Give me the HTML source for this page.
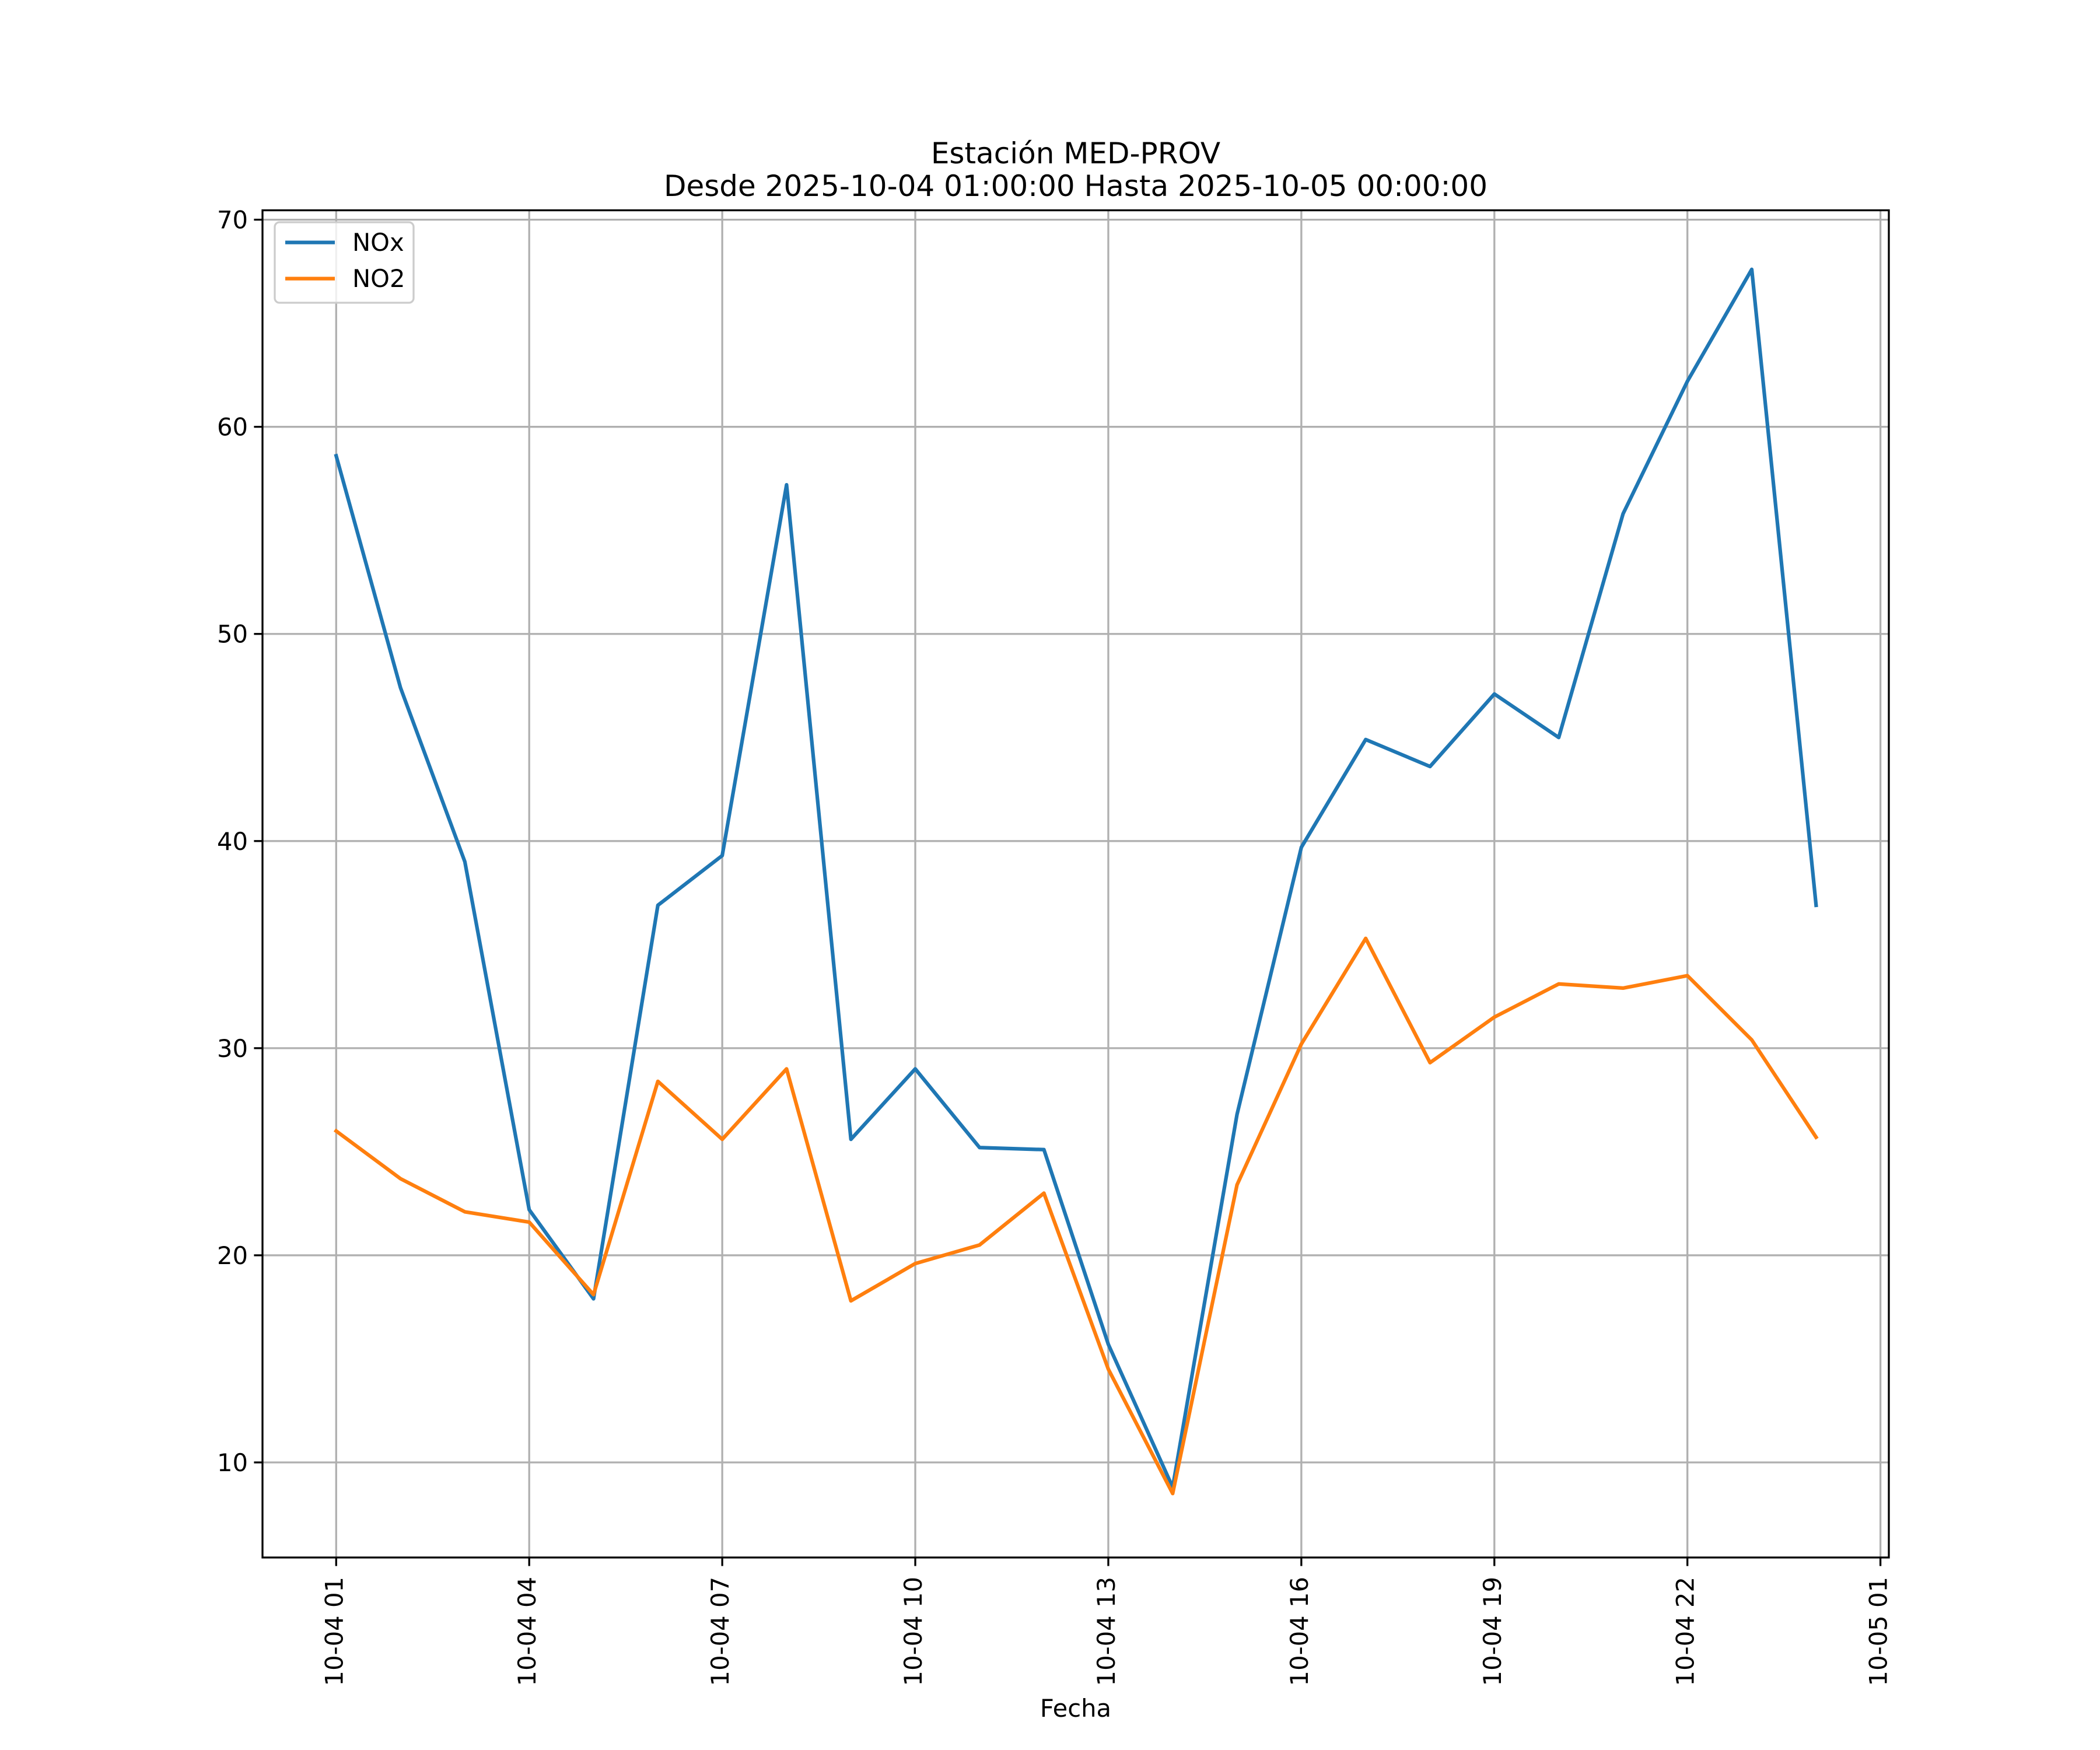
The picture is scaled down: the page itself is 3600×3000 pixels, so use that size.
<!DOCTYPE html>
<html><head><meta charset="utf-8"><style>
html,body{margin:0;padding:0;background:#fff;}
svg{display:block;font-family:"DejaVu Sans","Liberation Sans",sans-serif;}
</style></head><body>
<svg id="chart" width="3600" height="3000" viewBox="0 0 3600 3000" xmlns="http://www.w3.org/2000/svg">
<rect width="3600" height="3000" fill="#fff"/>
<text x="1844" y="280" font-size="50" text-anchor="middle">Estación MED-PROV</text>
<text x="1844" y="336" font-size="50" text-anchor="middle">Desde 2025-10-04 01:00:00 Hasta 2025-10-05 00:00:00</text>
<g id="grid"></g>
<g id="series"></g>
<rect x="450" y="360.5" width="2788" height="2309.5" fill="none" stroke="#000" stroke-width="3.3"/>
<g id="axes"></g>
<text x="1844" y="2943" font-size="41.7" text-anchor="middle">Fecha</text>
<g>
<rect x="471" y="381" width="238" height="138" rx="8" fill="#fff" fill-opacity="0.8" stroke="#ccc" stroke-width="3.3"/>
<line x1="489" y1="415.6" x2="574" y2="415.6" stroke="#1f77b4" stroke-width="6.25"/>
<text x="604" y="430" font-size="41.7">NOx</text>
<line x1="489" y1="477.6" x2="574" y2="477.6" stroke="#ff7f0e" stroke-width="6.25"/>
<text x="604" y="492" font-size="41.7">NO2</text>
</g>
</svg>
<script>
const hours = [1,2,3,4,5,6,7,8,9,10,11,12,13,14,15,16,17,18,19,20,21,22,23,24];
const noxValues = [58.6,47.4,39.0,22.2,17.9,36.9,39.3,57.2,25.6,29.0,25.2,25.1,15.7,8.8,26.8,39.7,44.9,43.6,47.1,45.0,55.8,62.2,67.6,36.9];
const no2Values = [26.0,23.7,22.1,21.6,18.1,28.4,25.6,29.0,17.8,19.6,20.5,23.0,14.5,8.5,23.4,30.2,35.3,29.3,31.5,33.1,32.9,33.5,30.4,25.7];
const yTicks = [10,20,30,40,50,60,70];
const xTickHours = [1,4,7,10,13,16,19,22,25];
const xTickLabels = ["10-04 01","10-04 04","10-04 07","10-04 10","10-04 13","10-04 16","10-04 19","10-04 22","10-05 01"];

const NS = "http://www.w3.org/2000/svg";
const X0 = 450, X1 = 3238, Y0 = 360.5, Y1 = 2670;
function xScale(h){ return 576.3 + (h - 1) * (3223.6 - 576.3) / 24; }
function yScale(v){ return 2507 - (v - 10) * (2507 - 376.6) / 60; }
function mk(tag, attrs, parent){
  const el = document.createElementNS(NS, tag);
  for (const k in attrs) el.setAttribute(k, attrs[k]);
  parent.appendChild(el);
  return el;
}
const grid = document.getElementById('grid');
const axes = document.getElementById('axes');
const series = document.getElementById('series');

yTicks.forEach(v => {
  const y = yScale(v);
  const g = mk('line', {x1:X0, x2:X1, y1:y, y2:y, stroke:'#b0b0b0', 'stroke-width':3.3}, grid);
  
  
  const t = mk('line', {x1:X0-14.6, x2:X0, y1:y, y2:y, stroke:'#000', 'stroke-width':3.3}, axes);
  
  
  const l = mk('text', {x:X0-25, y:y+15, 'font-size':41.7, 'text-anchor':'end'}, axes);
  
  
  l.textContent = v;
});
xTickHours.forEach((h, i) => {
  const x = xScale(h);
  const g = mk('line', {x1:x, x2:x, y1:Y0, y2:Y1, stroke:'#b0b0b0', 'stroke-width':3.3}, grid);
  
  
  const t = mk('line', {x1:x, x2:x, y1:Y1, y2:Y1+14.6, stroke:'#000', 'stroke-width':3.3}, axes);
  
  
  const l = mk('text', {x:0, y:0, 'font-size':41.7, 'text-anchor':'end', transform:`translate(${x+11},2703) rotate(-90)`}, axes);
  
  
  l.textContent = xTickLabels[i];
});
function drawLine(vals, color, name){
  const pts = vals.map((v, i) => xScale(hours[i]).toFixed(1) + ',' + yScale(v).toFixed(1)).join(' ');
  const p = mk('polyline', {points:pts, fill:'none', stroke:color, 'stroke-width':6.25, 'stroke-linejoin':'round', 'stroke-linecap':'square'}, series);
  
  
}
drawLine(noxValues, '#1f77b4', 'nox-line');
drawLine(no2Values, '#ff7f0e', 'no2-line');
</script>
</body></html>
